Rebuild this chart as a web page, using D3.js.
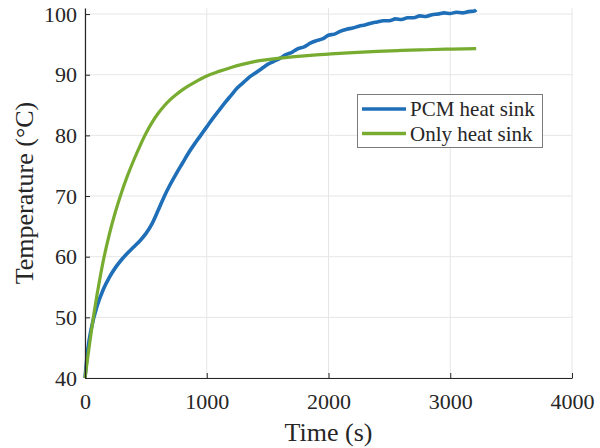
<!DOCTYPE html>
<html>
<head>
<meta charset="utf-8">
<script src="https://cdn.jsdelivr.net/npm/d3@7"></script>
<style>
  body { margin: 0; background: #fff; }
  svg { display: block; font-family: "Liberation Serif", "Times New Roman", serif; }
</style>
</head>
<body>
<svg id="chart" width="600" height="448"></svg>
<script>
// series
var seriesNames = ["PCM heat sink", "Only heat sink"];

var pcmTime = [0, 25, 50, 100, 150, 200, 250, 300, 350, 400, 450, 500, 550, 600, 650, 700,
  750, 800, 850, 900, 950, 1000, 1050, 1100, 1150, 1200, 1250, 1300, 1350, 1400, 1450,
  1500, 1550, 1600, 1650, 1700, 1750, 1800, 1850, 1900, 1950, 2000, 2050, 2100, 2150,
  2200, 2250, 2300, 2350, 2400, 2450, 2500, 2550, 2600, 2650, 2700, 2750, 2800, 2850,
  2900, 2950, 3000, 3050, 3100, 3150, 3200, 3213];
var pcmTemp = [40.0, 45.0, 48.0, 51.9, 54.6, 56.6, 58.2, 59.5, 60.6, 61.6, 62.6, 63.8, 65.4,
  67.6, 69.9, 71.9, 73.7, 75.4, 77.1, 78.6, 80.0, 81.4, 82.8, 84.1, 85.4, 86.6, 87.8, 88.7,
  89.6, 90.3, 91.0, 91.7, 92.2, 92.7, 93.3, 93.7, 94.3, 94.6, 95.2, 95.6, 95.9, 96.5, 96.7,
  97.2, 97.5, 97.7, 98.0, 98.2, 98.5, 98.7, 98.9, 98.9, 99.2, 99.1, 99.4, 99.4, 99.7, 99.6,
  99.9, 100.0, 100.2, 100.1, 100.3, 100.2, 100.4, 100.5, 100.7];

var onlyTime = [0, 25, 50, 75, 100, 125, 150, 200, 250, 300, 350, 400, 450, 500, 550, 600,
  650, 700, 750, 800, 850, 900, 950, 1000, 1100, 1200, 1300, 1400, 1500, 1600, 1700, 1800,
  1900, 2000, 2200, 2400, 2600, 2800, 3000, 3213];
var onlyTemp = [40.0, 43.8, 47.4, 50.8, 53.9, 56.7, 59.3, 63.7, 67.4, 70.6, 73.4, 75.9, 78.2,
  80.3, 82.1, 83.6, 84.85, 85.9, 86.75, 87.5, 88.15, 88.75, 89.3, 89.8, 90.55, 91.2, 91.75,
  92.2, 92.5, 92.75, 92.95, 93.12, 93.27, 93.4, 93.65, 93.85, 94.0, 94.12, 94.22, 94.3];

var xTicks = [0, 1000, 2000, 3000, 4000];
var yTicks = [40, 50, 60, 70, 80, 90, 100];

var colors = ["#1f6fb8", "#77ac30"];

var plot = { left: 85, right: 572, top: 8, bottom: 378 };

var svg = d3.select("#chart");

var xScale = d3.scaleLinear().domain([0, 4000]).range([plot.left, plot.right]);
var yScale = d3.scaleLinear().domain([40, 101]).range([plot.bottom, plot.top]);

// grid
svg.append("g")
  .selectAll("line.vg")
  .data(xTicks)
  .enter()
  .append("line")
  .attr("x1", (d) => xScale(d))
  .attr("x2", (d) => xScale(d))
  .attr("y1", plot.top)
  .attr("y2", plot.bottom)
  .attr("stroke", "#e6e6e6")
  .attr("stroke-width", 1);

svg.append("g")
  .selectAll("line.hg")
  .data(yTicks)
  .enter()
  .append("line")
  .attr("x1", plot.left)
  .attr("x2", plot.right)
  .attr("y1", (d) => yScale(d))
  .attr("y2", (d) => yScale(d))
  .attr("stroke", "#e6e6e6")
  .attr("stroke-width", 1);

// curves
var line = d3.line()
  .x((d) => xScale(d[0]))
  .y((d) => yScale(d[1]))
  .curve(d3.curveMonotoneX);

var pcmData = pcmTime.map((t, i) => [t, pcmTemp[i]]);
var onlyData = onlyTime.map((t, i) => [t, onlyTemp[i]]);

svg.append("path")
  .datum(pcmData)
  .attr("d", line)
  .attr("fill", "none")
  .attr("stroke", colors[0])
  .attr("stroke-width", 3.6)
  .attr("stroke-linejoin", "round");

svg.append("path")
  .datum(onlyData)
  .attr("d", line)
  .attr("fill", "none")
  .attr("stroke", colors[1])
  .attr("stroke-width", 3.2)
  .attr("stroke-linejoin", "round");

// axes, ticks point inward like matlab
var xAxis = svg.append("g")
  .attr("transform", "translate(0," + plot.bottom + ")")
  .call(d3.axisBottom(xScale).tickValues(xTicks).tickFormat(d3.format("d"))
    .tickSizeInner(-5).tickSizeOuter(0).tickPadding(15));

var yAxis = svg.append("g")
  .attr("transform", "translate(" + plot.left + ",0)")
  .call(d3.axisLeft(yScale).tickValues(yTicks).tickFormat(d3.format("d"))
    .tickSizeInner(-5).tickSizeOuter(0).tickPadding(8));

[xAxis, yAxis].forEach(function (ax) {
  ax.select(".domain").attr("stroke", "#262626").attr("stroke-width", 1.2);
  ax.selectAll(".tick line").attr("stroke", "#262626");
  ax.selectAll("text")
    .attr("fill", "#262626")
    .style("font-size", "22px")
    .style("font-family", "'Liberation Serif', serif");
});

// axis labels
svg.append("text")
  .attr("x", (plot.left + plot.right) / 2)
  .attr("y", 441)
  .attr("text-anchor", "middle")
  .attr("fill", "#262626")
  .style("font-size", "26px")
  .text("Time (s)");

svg.append("text")
  .attr("transform", "translate(33," + (plot.top + plot.bottom) / 2 + ")rotate(-90)")
  .attr("text-anchor", "middle")
  .attr("fill", "#262626")
  .style("font-size", "26px")
  .text("Temperature (°C)");

// legend
var legend = svg.append("g");
legend.append("rect")
  .attr("x", 357.5)
  .attr("y", 94.5)
  .attr("width", 185)
  .attr("height", 53)
  .attr("fill", "#fff")
  .attr("stroke", "#7a7a7a")
  .attr("stroke-width", 1);

seriesNames.forEach(function (name, i) {
  var y = 109 + i * 24.5;
  legend.append("line")
    .attr("x1", 362)
    .attr("x2", 406)
    .attr("y1", y)
    .attr("y2", y)
    .attr("stroke", colors[i])
    .attr("stroke-width", 3.5);
  legend.append("text")
    .attr("x", 410)
    .attr("y", y + 7)
    .attr("fill", "#262626")
    .style("font-size", "21px")
    .text(name);
});
</script>
</body>
</html>
